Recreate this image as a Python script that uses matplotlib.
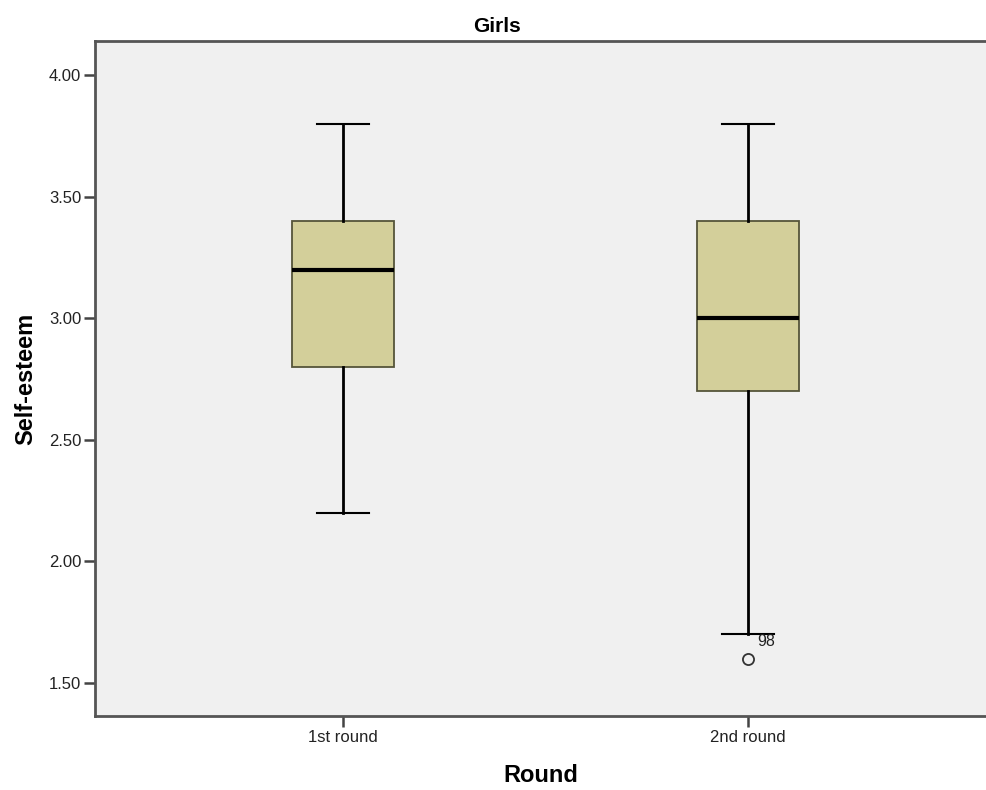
import matplotlib
matplotlib.use("Agg")
import matplotlib.pyplot as plt

plt.rcParams['font.family'] = ['Liberation Sans', 'DejaVu Sans']

rounds = ["1st round", "2nd round"]
whislo = [2.20, 1.70]
q1 = [2.80, 2.70]
med = [3.20, 3.00]
q3 = [3.40, 3.40]
whishi = [3.80, 3.80]
outliers = [[], [1.60]]
outlier_ids = [[], ["98"]]

yticks = [1.50, 2.00, 2.50, 3.00, 3.50, 4.00]

stats = []
for i in range(len(rounds)):
    stats.append({"label": rounds[i], "whislo": whislo[i], "q1": q1[i], "med": med[i],
                  "q3": q3[i], "whishi": whishi[i], "fliers": outliers[i]})

fig = plt.figure(figsize=(9.86, 7.90), dpi=100)
ax = fig.add_axes([95/986, 1 - 716/790, 1 - 95/986, (716 - 41)/790])
ax.set_facecolor("#f0f0f0")

ax.bxp(stats, positions=[1, 2], widths=0.252, patch_artist=True,
       boxprops=dict(facecolor="#d3cf9a", edgecolor="#55553a", linewidth=1.3),
       medianprops=dict(color="black", linewidth=3),
       whiskerprops=dict(color="black", linewidth=2),
       capprops=dict(color="black", linewidth=1.5),
       capwidths=0.13,
       flierprops=dict(marker="o", markerfacecolor="none", markeredgecolor="#333333",
                       markersize=8, markeredgewidth=1.3))

for i in range(len(rounds)):
    for v, name in zip(outliers[i], outlier_ids[i]):
        ax.annotate(name, (i + 1, v), xytext=(7, 12), textcoords="offset points",
                    fontsize=11.5, color="#222222", ha="left", va="center")

ax.set_xlim(0.388, 2.588)
ax.set_ylim(1.364, 4.14)
ax.set_yticks(yticks)
ax.set_yticklabels([f"{t:.2f}" for t in yticks], fontsize=12, color="#222222")
ax.set_xticks([1, 2])
ax.set_xticklabels(rounds, fontsize=12, color="#222222")
ax.tick_params(axis="both", direction="out", length=8, width=1.8, color="#444444", pad=2)

ax.spines["right"].set_visible(False)
for side in ["left", "top", "bottom"]:
    ax.spines[side].set_color("#555555")
    ax.spines[side].set_linewidth(2)

ax.set_ylabel("Self-esteem", fontsize=17, fontweight="bold", labelpad=8)
ax.set_xlabel("Round", fontsize=17, fontweight="bold", labelpad=14)
fig.text(497/986, 1 - 26/790, "Girls", fontsize=15, fontweight="bold",
         ha="center", va="center")

fig.savefig("out.png", dpi=100)
